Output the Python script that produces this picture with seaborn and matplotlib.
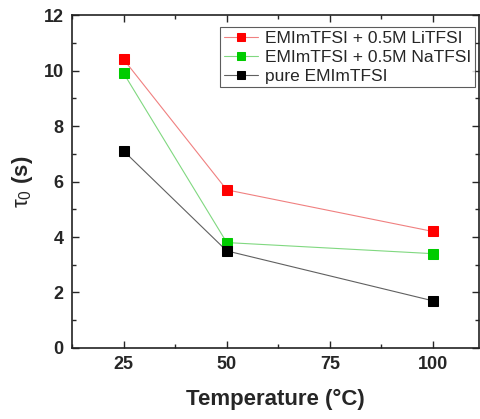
import pandas as pd
import matplotlib
matplotlib.use("Agg")
import matplotlib.pyplot as plt
import seaborn as sns
from matplotlib.ticker import MultipleLocator

# Data
temperature = [25, 50, 100]
tau_li = [10.4, 5.7, 4.2]
tau_na = [9.9, 3.8, 3.4]
tau_pure = [7.1, 3.5, 1.7]
labels = ["EMImTFSI + 0.5M LiTFSI", "EMImTFSI + 0.5M NaTFSI", "pure EMImTFSI"]

df = pd.concat([
    pd.DataFrame({"T": temperature, "tau": tau_li, "sample": labels[0]}),
    pd.DataFrame({"T": temperature, "tau": tau_na, "sample": labels[1]}),
    pd.DataFrame({"T": temperature, "tau": tau_pure, "sample": labels[2]}),
])

sns.set_style("ticks")
plt.rcParams['font.family'] = ['Liberation Sans', 'DejaVu Sans']
plt.rcParams['mathtext.fontset'] = 'custom'
plt.rcParams['mathtext.rm'] = 'Liberation Sans'
plt.rcParams['mathtext.it'] = 'Liberation Sans'

fig = plt.figure(figsize=(4.81, 4.19), dpi=100)
ax = fig.add_axes([0.150, 0.1695, 0.846, 0.7945])

marker_colors = {labels[0]: "#ff0000", labels[1]: "#00cc00", labels[2]: "#000000"}
line_colors = {labels[0]: "#f08080", labels[1]: "#80d880", labels[2]: "#606060"}

sns.lineplot(data=df, x="T", y="tau", hue="sample", palette=line_colors,
             marker="s", markersize=7, linewidth=0.8, ax=ax, legend=True)

# recolor markers to saturated colours
for line, lab in zip(ax.get_lines(), labels):
    line.set_markerfacecolor(marker_colors[lab])
    line.set_markeredgecolor(marker_colors[lab])
handles, _ = ax.get_legend_handles_labels()
for h, lab in zip(handles, labels):
    h.set_markerfacecolor(marker_colors[lab])
    h.set_markeredgecolor(marker_colors[lab])

leg = ax.legend(handles, labels, loc="upper right", fontsize=12.5, frameon=True,
                fancybox=False, edgecolor="#333333", borderpad=0.2,
                handlelength=2.0, handletextpad=0.4, labelspacing=0.22,
                markerscale=0.75, borderaxespad=0, bbox_to_anchor=(0.99, 0.963))
leg.get_frame().set_linewidth(0.8)

ax.set_xlim(12.5, 111.2)
ax.set_ylim(0, 12)
ax.xaxis.set_major_locator(MultipleLocator(25))
ax.xaxis.set_minor_locator(MultipleLocator(12.5))
ax.yaxis.set_major_locator(MultipleLocator(2))
ax.yaxis.set_minor_locator(MultipleLocator(1))
ax.tick_params(which="both", direction="in", top=True, right=True, width=1)
ax.tick_params(which="major", length=5, labelsize=13, pad=6)
ax.tick_params(which="minor", length=3)
for lbl in ax.get_xticklabels() + ax.get_yticklabels():
    lbl.set_fontweight("bold")
for s in ax.spines.values():
    s.set_linewidth(1.2)
    s.set_color("#222222")

ax.set_xlabel("Temperature (°C)", fontsize=16, fontweight="bold", labelpad=11)
ax.set_ylabel(r"$\tau_0$ (s)", fontsize=16, fontweight="bold", labelpad=6)

fig.savefig("out.png", dpi=100)
